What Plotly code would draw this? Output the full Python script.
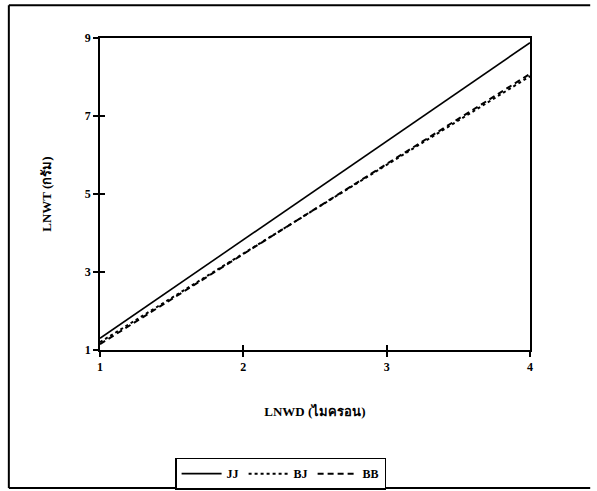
import plotly.graph_objects as go

x_vals = [1, 4]
jj = [1.3, 8.88]
bj = [1.2, 8.02]
bb = [1.15, 8.08]
series_names = ["JJ", "BJ", "BB"]
x_ticks = [1, 2, 3, 4]
y_ticks = [1, 3, 5, 7, 9]

font_fam = "Liberation Serif, Times New Roman, serif"

fig = go.Figure()
fig.add_trace(go.Scatter(x=x_vals, y=jj, mode="lines", name=series_names[0],
                         line=dict(color="black", width=1.6, dash="solid")))
fig.add_trace(go.Scatter(x=x_vals, y=bj, mode="lines", name=series_names[1],
                         line=dict(color="black", width=2, dash="dot")))
fig.add_trace(go.Scatter(x=x_vals, y=bb, mode="lines", name=series_names[2],
                         line=dict(color="black", width=2, dash="6px,4px")))
# invisible trace on overlay axes to carry inside ticks
fig.add_trace(go.Scatter(x=x_vals, y=jj, mode="markers", xaxis="x2", yaxis="y2",
                         marker=dict(color="rgba(0,0,0,0)", size=1), showlegend=False, hoverinfo="skip"))

axis_common = dict(showgrid=False, zeroline=False, showline=True, linecolor="black",
                   linewidth=1.5, ticks="outside", ticklen=5, tickwidth=1.5, tickcolor="black",
                   tickfont=dict(family=font_fam, size=12, color="black", weight="bold"))

fig.update_layout(
    width=597, height=491,
    margin=dict(l=100, r=67, t=38, b=141, autoexpand=False),
    paper_bgcolor="white", plot_bgcolor="white",
    font=dict(family=font_fam, color="black"),
    xaxis=dict(range=[1, 4], tickvals=x_ticks, mirror=True,
               title=dict(text="<b>LNWD (ไมครอน)</b>", font=dict(family=font_fam, size=13), standoff=34),
               **axis_common),
    yaxis=dict(range=[1, 9], tickvals=y_ticks, mirror=True,
               title=dict(text="<b>LNWT (กรัม)</b>", font=dict(family=font_fam, size=13), standoff=30),
               **axis_common),
    xaxis2=dict(range=[1, 4], tickvals=x_ticks, overlaying="x", showticklabels=False,
                showgrid=False, zeroline=False, showline=False, ticks="inside", ticklen=5, tickwidth=1.5,
                tickcolor="black", side="bottom", anchor="y2", visible=True),
    yaxis2=dict(range=[1, 9], tickvals=y_ticks, overlaying="y", showticklabels=False,
                showgrid=False, zeroline=False, showline=False, ticks="inside", ticklen=5, tickwidth=1.5,
                tickcolor="black", side="left", anchor="x2", visible=True),
    legend=dict(orientation="h", x=0.42, y=-0.345, xanchor="center", yanchor="top",
                bordercolor="black", borderwidth=1.5, bgcolor="white",
                font=dict(family=font_fam, size=12, weight="bold"),
                itemwidth=40, tracegroupgap=0),
    showlegend=True,
)

# outer chart frame (left, top, bottom edges)
fig.add_shape(type="line", xref="paper", yref="paper", x0=-0.212, x1=-0.212, y0=1.105, y1=-0.442,
              line=dict(color="black", width=2))
fig.add_shape(type="line", xref="paper", yref="paper", x0=-0.212, x1=1.14, y0=1.105, y1=1.105,
              line=dict(color="black", width=2))
fig.add_shape(type="line", xref="paper", yref="paper", x0=-0.212, x1=1.14, y0=-0.442, y1=-0.442,
              line=dict(color="black", width=2))

fig.write_html("out.html")
